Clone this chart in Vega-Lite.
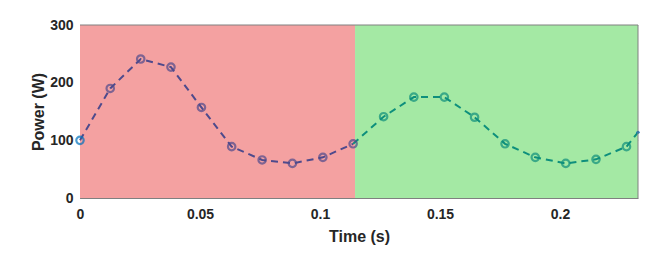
{
  "$schema": "https://vega.github.io/schema/vega-lite/v6.json",
  "width": 558,
  "height": 173,
  "autosize": {"type": "none"},
  "padding": {"left": 80, "top": 25, "right": 27, "bottom": 66},
  "background": "white",
  "config": {
    "view": {"stroke": null},
    "font": "Liberation Sans",
    "axis": {
      "labelFont": "Liberation Sans",
      "labelFontWeight": "bold",
      "labelFontSize": 14,
      "labelColor": "#262626",
      "labelFlush": false,
      "titleFont": "Liberation Sans",
      "titleFontWeight": "bold",
      "titleFontSize": 16,
      "titleColor": "#262626",
      "domainColor": "#808080",
      "domainWidth": 1,
      "tickColor": "#808080",
      "tickSize": -5,
      "gridColor": "#000000",
      "gridOpacity": 0.13,
      "gridWidth": 1,
      "zindex": 1
    }
  },
  "datasets": {
    "bands": [
      {"x0": 0, "x1": 0.1146, "phase": "A"},
      {"x0": 0.1146, "x1": 0.2325, "phase": "B"}
    ],
    "series": [
      {"t": 0, "p": 100, "s": "A", "m": "blue"},
      {"t": 0.0126, "p": 190, "s": "A", "m": "yes"},
      {"t": 0.0253, "p": 241, "s": "A", "m": "yes"},
      {"t": 0.0379, "p": 227, "s": "A", "m": "yes"},
      {"t": 0.0506, "p": 157, "s": "A", "m": "yes"},
      {"t": 0.0632, "p": 89, "s": "A", "m": "yes"},
      {"t": 0.0759, "p": 66, "s": "A", "m": "yes"},
      {"t": 0.0885, "p": 60, "s": "A", "m": "yes"},
      {"t": 0.1012, "p": 70.5, "s": "A", "m": "yes"},
      {"t": 0.1138, "p": 94, "s": "A", "m": "yes"},
      {"t": 0.1138, "p": 94, "s": "B", "m": "no"},
      {"t": 0.1265, "p": 141, "s": "B", "m": "yes"},
      {"t": 0.1391, "p": 175, "s": "B", "m": "yes"},
      {"t": 0.1518, "p": 175, "s": "B", "m": "yes"},
      {"t": 0.1644, "p": 140, "s": "B", "m": "yes"},
      {"t": 0.1771, "p": 94, "s": "B", "m": "yes"},
      {"t": 0.1897, "p": 70.5, "s": "B", "m": "yes"},
      {"t": 0.2024, "p": 60, "s": "B", "m": "yes"},
      {"t": 0.215, "p": 67, "s": "B", "m": "yes"},
      {"t": 0.2277, "p": 89, "s": "B", "m": "yes"},
      {"t": 0.2325, "p": 114, "s": "B", "m": "end"}
    ]
  },
  "layer": [
    {
      "data": {"name": "bands"},
      "mark": {"type": "rect", "stroke": null},
      "encoding": {
        "x": {"field": "x0", "type": "quantitative", "scale": {"domain": [0, 0.2325], "nice": false, "zero": false},
          "axis": {"title": "Time (s)", "values": [0, 0.05, 0.1, 0.15, 0.2], "labelExpr": "datum.value === 0 ? '0' : format(datum.value, '~g')", "labelPadding": 14, "titlePadding": 7}},
        "x2": {"field": "x1"},
        "color": {"field": "phase", "type": "nominal", "scale": {"domain": ["A", "B"], "range": ["#F4A1A1", "#A4E9A4"]}, "legend": null}
      }
    },
    {
      "data": {"name": "series"},
      "mark": {"type": "line", "strokeDash": [7, 5], "strokeWidth": 2},
      "encoding": {
        "x": {"field": "t", "type": "quantitative"},
        "y": {"field": "p", "type": "quantitative", "scale": {"domain": [0, 300], "nice": false},
          "axis": {"title": "Power (W)", "values": [0, 100, 200, 300], "labelPadding": 12, "titlePadding": 3}},
        "detail": {"field": "s"},
        "stroke": {"field": "s", "type": "nominal", "scale": {"domain": ["A", "B"], "range": ["#4E4A8C", "#0E8F7C"]}, "legend": null}
      }
    },
    {
      "data": {"name": "series"},
      "transform": [{"filter": "datum.m === 'yes'"}],
      "mark": {"type": "point", "shape": "circle", "filled": false, "size": 55, "strokeWidth": 2.2},
      "encoding": {
        "x": {"field": "t", "type": "quantitative"},
        "y": {"field": "p", "type": "quantitative"},
        "stroke": {"field": "s", "type": "nominal", "scale": {"domain": ["A", "B"], "range": ["#4E4A8C", "#0E8F7C"]}, "legend": null}
      }
    },
    {
      "data": {"name": "series"},
      "transform": [{"filter": "datum.m === 'blue'"}],
      "mark": {"type": "point", "shape": "circle", "filled": false, "size": 55, "strokeWidth": 2.2, "color": "#0072BD"},
      "encoding": {
        "x": {"field": "t", "type": "quantitative"},
        "y": {"field": "p", "type": "quantitative"}
      }
    },
    {
      "data": {"name": "series"},
      "transform": [{"filter": "datum.m === 'end'"}],
      "mark": {"type": "point", "shape": "circle", "filled": true, "size": 10, "opacity": 1, "color": "#0072BD"},
      "encoding": {
        "x": {"field": "t", "type": "quantitative"},
        "y": {"field": "p", "type": "quantitative"}
      }
    },
    {
      "data": {"values": [{"v": 300}]},
      "mark": {"type": "rule", "color": "#808080", "strokeWidth": 1},
      "encoding": {"y": {"field": "v", "type": "quantitative"}}
    },
    {
      "data": {"values": [{"v": 0.2325}]},
      "mark": {"type": "rule", "color": "#808080", "strokeWidth": 1},
      "encoding": {"x": {"field": "v", "type": "quantitative"}}
    }
  ]
}
